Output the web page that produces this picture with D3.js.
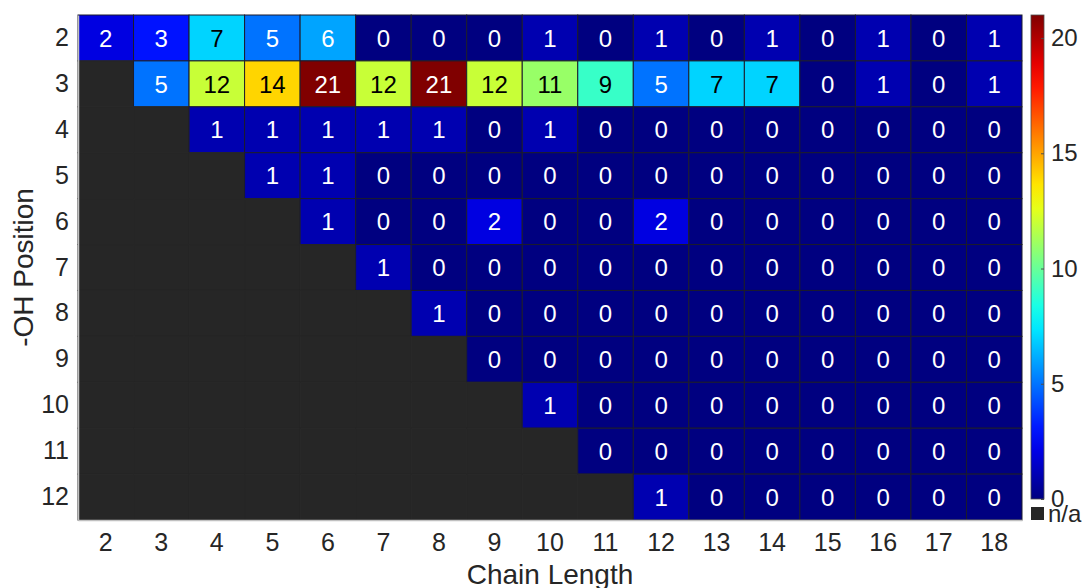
<!DOCTYPE html>
<html>
<head>
<meta charset="utf-8">
<script src="https://cdn.jsdelivr.net/npm/d3@7"></script>
<style>
  body { margin: 0; background: #fff; }
  svg text { font-family: "Liberation Sans", Arial, Helvetica, sans-serif; }
</style>
</head>
<body>
<svg width="1084" height="588"></svg>
<script>
(function () {

    // chain length (columns) and -OH position (rows)
    var chainLengths = [2, 3, 4, 5, 6, 7, 8, 9, 10, 11, 12, 13, 14, 15, 16, 17, 18];
    var positions = [2, 3, 4, 5, 6, 7, 8, 9, 10, 11, 12];

    // counts per -OH position, null = n/a
    var pos2  = [2, 3, 7, 5, 6, 0, 0, 0, 1, 0, 1, 0, 1, 0, 1, 0, 1];
    var pos3  = [null, 5, 12, 14, 21, 12, 21, 12, 11, 9, 5, 7, 7, 0, 1, 0, 1];
    var pos4  = [null, null, 1, 1, 1, 1, 1, 0, 1, 0, 0, 0, 0, 0, 0, 0, 0];
    var pos5  = [null, null, null, 1, 1, 0, 0, 0, 0, 0, 0, 0, 0, 0, 0, 0, 0];
    var pos6  = [null, null, null, null, 1, 0, 0, 2, 0, 0, 2, 0, 0, 0, 0, 0, 0];
    var pos7  = [null, null, null, null, null, 1, 0, 0, 0, 0, 0, 0, 0, 0, 0, 0, 0];
    var pos8  = [null, null, null, null, null, null, 1, 0, 0, 0, 0, 0, 0, 0, 0, 0, 0];
    var pos9  = [null, null, null, null, null, null, null, 0, 0, 0, 0, 0, 0, 0, 0, 0, 0];
    var pos10 = [null, null, null, null, null, null, null, null, 1, 0, 0, 0, 0, 0, 0, 0, 0];
    var pos11 = [null, null, null, null, null, null, null, null, null, 0, 0, 0, 0, 0, 0, 0, 0];
    var pos12 = [null, null, null, null, null, null, null, null, null, null, 1, 0, 0, 0, 0, 0, 0];
    var rows = [pos2, pos3, pos4, pos5, pos6, pos7, pos8, pos9, pos10, pos11, pos12];

    var colorTicks = [0, 5, 10, 15, 20];
    var colorMax = 21;

    var svg = d3.select("svg");
    var textColor = "#262626",
        naColor = "#262626";

    var left = 78, right = 1022, top = 15, bottom = 520;

    var x = d3.scaleBand().domain(chainLengths).range([left, right]);
    var y = d3.scaleBand().domain(positions).range([top, bottom]);

    // MATLAB-style jet
    function jet(t) {
        var c = v => Math.max(0, Math.min(1, v));
        var r = c(1.5 - Math.abs(4 * t - 3)),
            g = c(1.5 - Math.abs(4 * t - 2)),
            b = c(1.5 - Math.abs(4 * t - 1));
        return d3.rgb(r * 255, g * 255, b * 255);
    }
    var color = d3.scaleSequential(jet).domain([0, colorMax]);

    var cells = [];
    rows.forEach(function (row, i) {
        row.forEach(function (v, j) {
            cells.push({ pos: positions[i], chain: chainLengths[j], value: v });
        });
    });

    svg.append("g")
        .selectAll("rect")
        .data(cells)
        .enter().append("rect")
        .attr("x", d => x(d.chain))
        .attr("y", d => y(d.pos))
        .attr("width", x.bandwidth())
        .attr("height", y.bandwidth())
        .attr("fill", d => d.value == null ? naColor : color(d.value))
        .attr("stroke", d => d.value == null ? naColor : "#1c1c2c")
        .attr("stroke-width", 1);

    svg.append("g")
        .selectAll("text")
        .data(cells.filter(d => d.value != null))
        .enter().append("text")
        .attr("x", d => x(d.chain) + x.bandwidth() / 2)
        .attr("y", d => y(d.pos) + y.bandwidth() / 2)
        .attr("dy", "0.36em")
        .attr("text-anchor", "middle")
        .attr("font-size", "24px")
        .attr("fill", function (d) {
            var c = color(d.value);
            var lum = (0.299 * c.r + 0.587 * c.g + 0.114 * c.b) / 255;
            return lum > 0.5 ? "#000" : "#fff";
        })
        .text(d => d.value);

    // axes
    var xAxis = svg.append("g")
        .attr("transform", "translate(0," + bottom + ")")
        .call(d3.axisBottom(x).tickSize(0).tickPadding(13));
    var yAxis = svg.append("g")
        .attr("transform", "translate(" + left + ",0)")
        .call(d3.axisLeft(y).tickSize(0).tickPadding(9));
    [xAxis, yAxis].forEach(function (g) {
        g.select(".domain").attr("stroke", "#c0c0c0").attr("stroke-width", 1.5);
        g.selectAll("text").attr("font-size", "25px").attr("fill", textColor)
            .attr("font-family", "'Liberation Sans', Arial, sans-serif");
    });

    svg.append("text")
        .attr("x", (left + right) / 2)
        .attr("y", 584)
        .attr("text-anchor", "middle")
        .attr("font-size", "28px")
        .attr("fill", textColor)
        .text("Chain Length");

    svg.append("text")
        .attr("transform", "translate(33," + (top + bottom) / 2 + ") rotate(-90)")
        .attr("text-anchor", "middle")
        .attr("font-size", "28px")
        .attr("fill", textColor)
        .text("-OH Position");

    // colorbar
    var cbX = 1031, cbW = 13, cbBottom = 499;
    var cScale = d3.scaleLinear().domain([0, colorMax]).range([cbBottom, top]);

    var grad = svg.append("defs").append("linearGradient")
        .attr("id", "jetgrad")
        .attr("x1", 0).attr("y1", 1).attr("x2", 0).attr("y2", 0);
    grad.selectAll("stop")
        .data(d3.range(0, 1.0001, 0.05))
        .enter().append("stop")
        .attr("offset", d => d)
        .attr("stop-color", d => jet(d).formatHex());

    svg.append("rect")
        .attr("x", cbX).attr("y", top)
        .attr("width", cbW).attr("height", cbBottom - top)
        .attr("fill", "url(#jetgrad)")
        .attr("stroke", "#4d4d4d").attr("stroke-width", 0.8);

    var cAxis = svg.append("g")
        .attr("transform", "translate(" + (cbX + cbW) + ",0)")
        .call(d3.axisRight(cScale).tickValues(colorTicks).tickSize(-3).tickPadding(7));
    cAxis.select(".domain").remove();
    cAxis.selectAll("line").attr("stroke", "#4d4d4d");
    cAxis.selectAll("text").attr("font-size", "24px").attr("fill", textColor)
        .attr("font-family", "'Liberation Sans', Arial, sans-serif");

    svg.append("rect")
        .attr("x", cbX).attr("y", 507)
        .attr("width", cbW).attr("height", 13)
        .attr("fill", naColor);

    svg.append("text")
        .attr("x", cbX + cbW + 4)
        .attr("y", 522)
        .attr("font-size", "24px")
        .attr("fill", textColor)
        .text("n/a");

})();
</script>
</body>
</html>
